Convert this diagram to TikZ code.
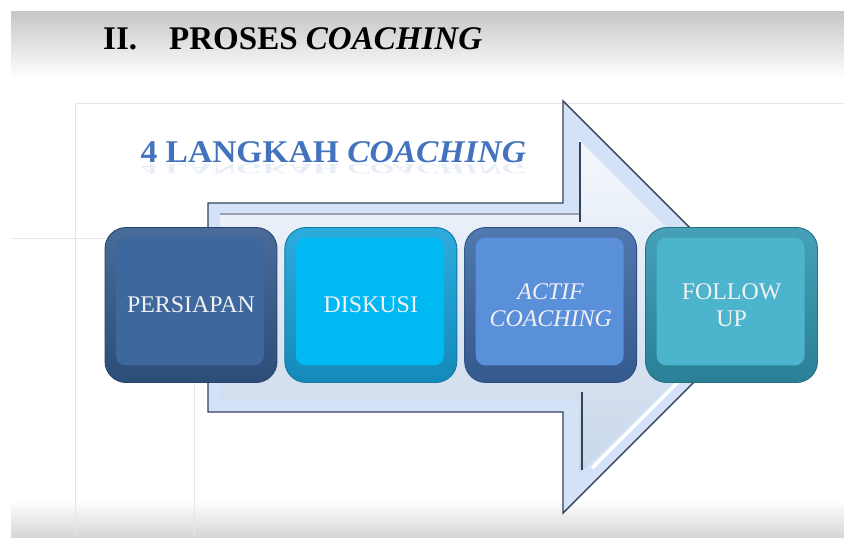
\documentclass[tikz,border=0pt]{standalone}
\usepackage{fontspec}
\setmainfont{Liberation Serif}
\usetikzlibrary{positioning}

\definecolor{rimA}{HTML}{355B8E}
\definecolor{faceA}{HTML}{3E679D}
\definecolor{rimB}{HTML}{17A2DA}
\definecolor{faceB}{HTML}{00B9F2}
\definecolor{rimC}{HTML}{3D69A6}
\definecolor{faceC}{HTML}{5A8FD9}
\definecolor{rimD}{HTML}{3196B0}
\definecolor{faceD}{HTML}{4CB4CD}
\definecolor{arrowface}{HTML}{D3E2F6}
\definecolor{arrowline}{HTML}{34425A}
\definecolor{titleblue}{HTML}{4373BE}
\definecolor{framegray}{HTML}{E6E6E6}

\begin{document}
\begin{tikzpicture}[x=0.02cm, y=-0.02cm,
  stepbox/.style 2 args={rounded corners=0.42cm, minimum width=3.44cm, minimum height=3.1cm,
    inner sep=0pt, align=center, text=white!95!black, font=\fontsize{13.6}{15.6}\selectfont,
    top color=#1!90!white, bottom color=#1!85!black, draw=#1!75!black, line width=0.5pt,
    path picture={\fill[#2, rounded corners=0.2cm]
      ([shift={(11,10)}]path picture bounding box.north west) rectangle
      ([shift={(-13,-17)}]path picture bounding box.south east);}},
  bigtitle/.style={anchor=base west, font=\fontsize{18.8}{20}\selectfont\bfseries},
  bluetitle/.style={anchor=base west, text=titleblue, xscale=1.06, font=\fontsize{18}{20}\selectfont\bfseries}]

  \useasboundingbox (0,0) rectangle (844,537);

  % screen shading
  \shade[top color=black!22, bottom color=white] (11,12) rectangle (844,78);
  \shade[top color=white, bottom color=black!16] (11,500) rectangle (844,537);

  % page frame
  \draw[framegray] (75,103) -- (844,103);
  \draw[framegray] (75,103) -- (75,537);
  \draw[framegray] (194,383) -- (194,537);
  \draw[framegray] (11,238) -- (105,238);

  % heading
  \node[bigtitle] (nomor) at (97,50) {II.};
  \node[bigtitle] (judul) at (163,50) {PROSES \textit{COACHING}};

  % big arrow
  \fill[arrowface, draw=arrowline, line width=0.8pt]
    (208,203) -- (563,203) -- (563,101) -- (769,307) -- (563,513) -- (563,412) -- (208,412) -- cycle;
  \shade[top color=white!75!arrowface, bottom color=arrowface!95!black]
    (220,214) -- (579,214) -- (579,140) -- (746,307) -- (579,474) -- (579,400) -- (220,400) -- cycle;
  \draw[arrowline, line width=1.4pt] (580,142) -- (580,222);
  \draw[arrowline, line width=1.4pt] (582,392) -- (582,470);
  \draw[white, line width=2pt] (592,468) -- (745,315);
  \draw[arrowline!50!white, line width=0.8pt] (220,214) -- (579,214);

  % "4 langkah" heading with reflection
  \node[bluetitle] (langkah) at (134,162) {4 LANGKAH \textit{COACHING}};
  \node[bluetitle, yscale=-0.45, opacity=0.12] (bayangan) at (134,164) {4 LANGKAH \textit{COACHING}};

  % the four steps
  \node[stepbox={rimA}{faceA}] (persiapan) at (191,305) {PERSIAPAN};
  \node[stepbox={rimB}{faceB}, right=0.14cm of persiapan] (diskusi) {DISKUSI};
  \node[stepbox={rimC}{faceC}, right=0.14cm of diskusi] (actif) {\textit{ACTIF}\\\textit{COACHING}};
  \node[stepbox={rimD}{faceD}, right=0.16cm of actif] (follow) {FOLLOW\\UP};

\end{tikzpicture}
\end{document}
